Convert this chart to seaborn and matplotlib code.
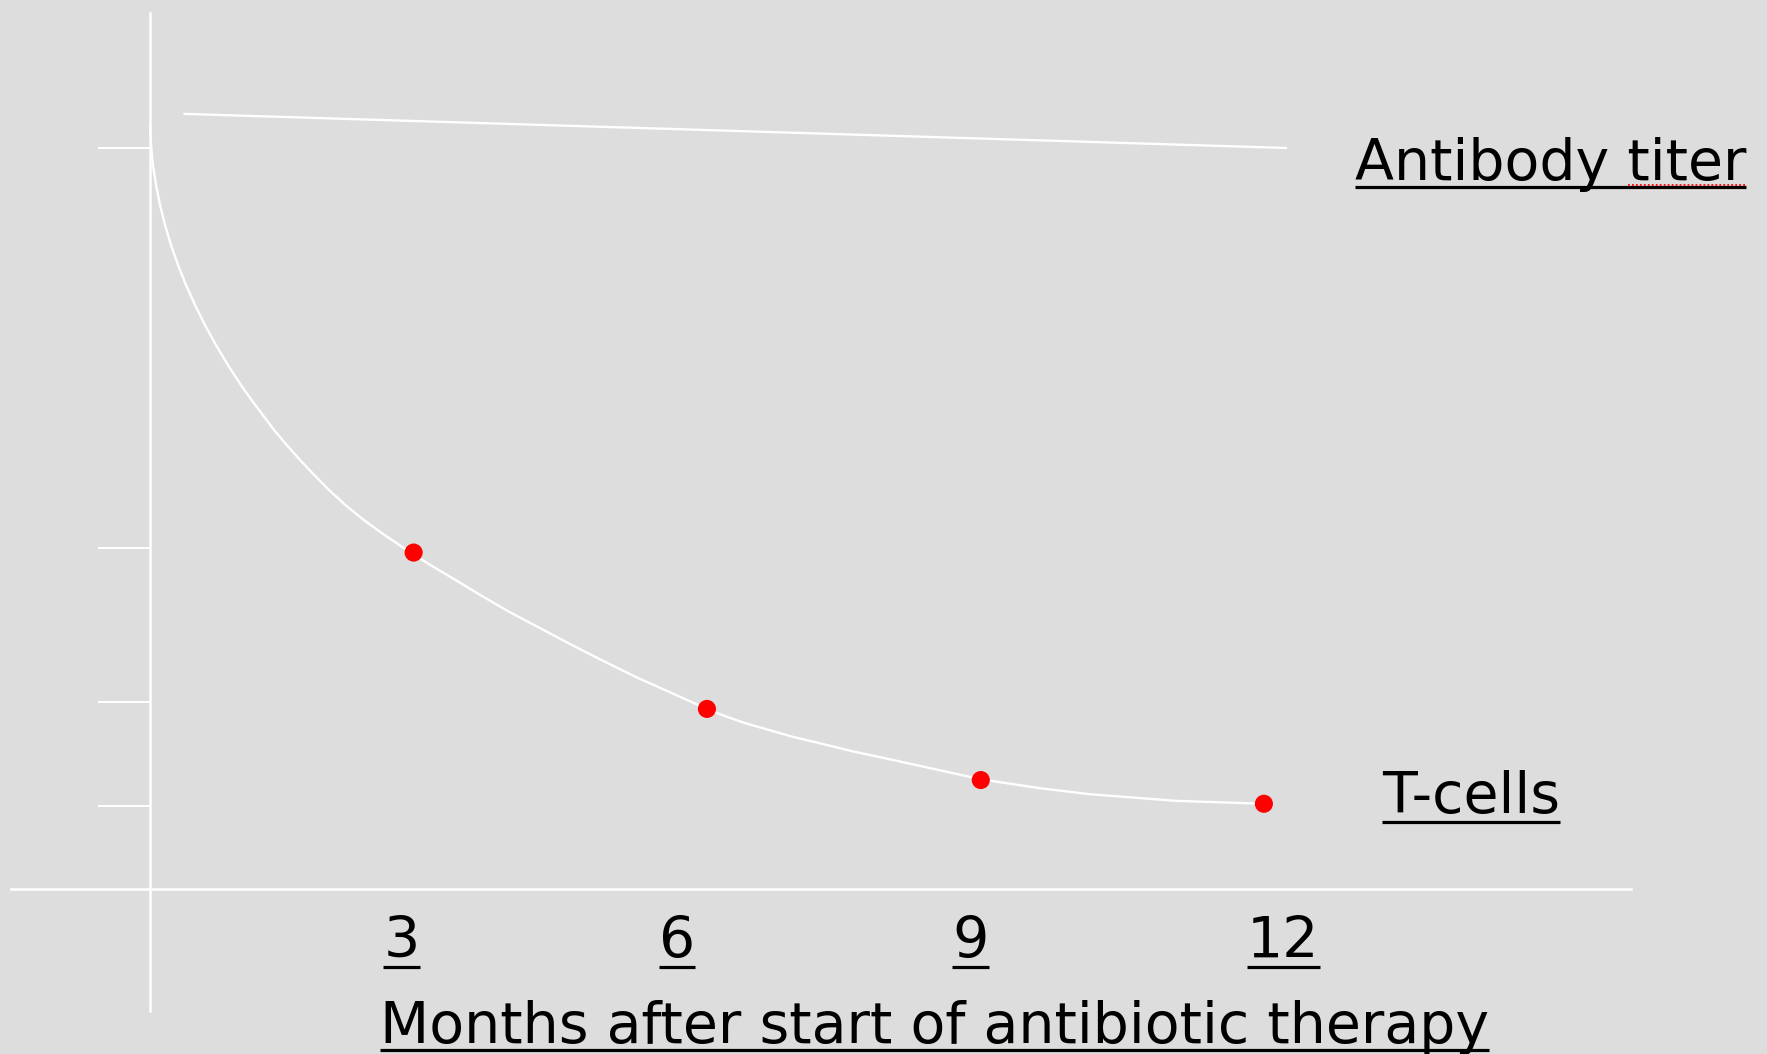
import matplotlib
matplotlib.use('Agg')
import matplotlib.pyplot as plt
import seaborn as sns

# values (months, relative level)
curve_months = [0.0, 0.011, 0.032, 0.065, 0.108, 0.162, 0.226, 0.302, 0.388, 0.485,
                0.592, 0.711, 0.840, 0.980, 1.093, 1.213, 1.339, 1.474, 1.616, 1.767,
                1.928, 2.106, 2.303, 2.523, 2.765, 3.023, 3.291, 3.581, 3.884, 4.202,
                4.534, 4.879, 5.236, 5.610, 6.0, 6.189, 6.407, 6.656, 6.935, 7.237,
                7.561, 7.897, 8.952, 9.587, 10.115, 11.042, 12.0]
curve_level = [103.1, 100.4, 97.7, 95.0, 92.3, 89.6, 86.9, 84.2, 81.5, 78.8,
               76.1, 73.4, 70.7, 68.0, 66.0, 64.0, 61.9, 59.9, 57.9, 55.9,
               53.85, 51.8, 49.8, 47.8, 45.75, 43.7, 41.7, 39.5, 37.3, 35.2,
               33.0, 30.8, 28.6, 26.5, 24.3, 23.35, 22.4, 21.5, 20.5, 19.6,
               18.6, 17.7, 14.8, 13.6, 12.8, 11.9, 11.5]

dot_months = [2.84, 6.0, 8.95, 12.0]
dot_level = [45.4, 24.3, 14.7, 11.5]

antibody_months = [0.37, 12.24]
antibody_level = [104.6, 100.0]

y_ticks = [100, 46.0, 25.2, 11.2]
x_labels = ['3', '6', '9', '12']
x_label_pos = [2.71, 5.68, 8.84, 12.21]

bg = '#dddddd'
sns.set_theme(style='white', rc={'axes.facecolor': bg, 'figure.facecolor': bg,
                                 'text.color': 'black'})
plt.rcParams['font.family'] = ['DejaVu Sans']

fig = plt.figure(figsize=(17.67, 10.54), dpi=100)
ax = fig.add_axes([0, 0, 1, 1])
ax.set_xlim(-1.616, 17.42)
ax.set_ylim(-22.27, 119.97)

# curves and dots
sns.lineplot(x=curve_months, y=curve_level, color='white', lw=1.7, sort=False,
             estimator=None, solid_joinstyle='round', ax=ax)
sns.lineplot(x=antibody_months, y=antibody_level, color='white', lw=1.7, ax=ax)
sns.scatterplot(x=dot_months, y=dot_level, color='red', s=170, edgecolor='none',
                zorder=4, ax=ax)

# axes drawn as white spines crossing at the origin
for side in ['top', 'right']:
    ax.spines[side].set_visible(False)
ax.spines['left'].set_position(('data', 0))
ax.spines['bottom'].set_position(('data', 0))
ax.spines['left'].set_bounds(-16.46, 118.2)
ax.spines['bottom'].set_bounds(-1.497, 15.95)
for side in ['left', 'bottom']:
    ax.spines[side].set_color('white')
    ax.spines[side].set_linewidth(1.8)

ax.set_yticks(y_ticks)
ax.set_xticks([])
ax.tick_params(axis='y', direction='out', length=37.5, width=1.5, color='white',
               labelleft=False, left=True)

fs = 41
texts = []
for lab, xp in zip(x_labels, x_label_pos):
    t = ax.text(xp, -9.31, lab, ha='center', va='baseline', fontsize=fs, color='black')
    texts.append((t, -10.55))
t = ax.text(2.48, -20.78, 'Months after start of antibiotic therapy', ha='left',
            va='baseline', fontsize=fs, color='black')
texts.append((t, -21.7))
t_ab = ax.text(12.98, 95.7, 'Antibody titer', ha='left', va='baseline', fontsize=fs,
               color='black')
texts.append((t_ab, 94.75))
t = ax.text(13.27, 10.26, 'T-cells', ha='left', va='baseline', fontsize=fs, color='black')
texts.append((t, 9.05))

# underline every text
fig.canvas.draw()
inv = ax.transData.inverted()
for t, yu in texts:
    bb = t.get_window_extent()
    x0 = inv.transform((bb.x0, 0))[0]
    x1 = inv.transform((bb.x1, 0))[0]
    ax.plot([x0, x1], [yu, yu], color='black', lw=2.3, solid_capstyle='butt')

# red spell-check squiggle under "titer"
ax.plot([15.92, 17.2], [95.05, 95.05], color='red', lw=1.3, ls=(0, (1, 1.2)))

fig.savefig('out.png', dpi=100, facecolor=bg)
